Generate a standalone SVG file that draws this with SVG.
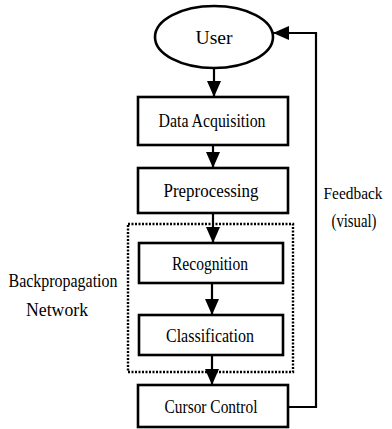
<svg xmlns="http://www.w3.org/2000/svg" width="392" height="429" viewBox="0 0 392 429">
<defs>
<style>
.box{fill:#fff;stroke:#000;stroke-width:2.6}
.t{font-family:"Liberation Serif","DejaVu Serif",serif;font-size:19px;fill:#000;text-anchor:middle}
.ln{stroke:#000;stroke-width:2.2;fill:none}
.dot{fill:none;stroke:#000;stroke-width:2.4;stroke-dasharray:2 1.5}
</style>
<marker id="ah" viewBox="0 0 16 14" refX="16" refY="7" markerWidth="16" markerHeight="14" markerUnits="userSpaceOnUse" orient="auto">
<path d="M0,0 L16,7 L0,14 Z" fill="#000"/>
</marker>
</defs>
<rect width="392" height="429" fill="#fff"/>
<g id="group-bpn">
<rect class="dot" x="128" y="224" width="165" height="148"/>
<text class="t" x="63" y="287" textLength="109" lengthAdjust="spacingAndGlyphs">Backpropagation</text>
<text class="t" x="57" y="316" textLength="62" lengthAdjust="spacingAndGlyphs">Network</text>
</g>
<g id="connectors">
<line class="ln" x1="214" y1="68" x2="214" y2="97" marker-end="url(#ah)"/>
<line class="ln" x1="213" y1="145" x2="213" y2="168" marker-end="url(#ah)"/>
<line class="ln" x1="213" y1="213" x2="213" y2="243" marker-end="url(#ah)"/>
<line class="ln" x1="212" y1="283" x2="212" y2="315" marker-end="url(#ah)"/>
<line class="ln" x1="212" y1="355" x2="212" y2="385" marker-end="url(#ah)"/>
<polyline class="ln" points="288,407 316,407 316,33 273,33" marker-end="url(#ah)"/>
<text class="t" x="353" y="199" style="font-size:17px" textLength="59" lengthAdjust="spacingAndGlyphs">Feedback</text>
<text class="t" x="354" y="227" textLength="45" lengthAdjust="spacingAndGlyphs">(visual)</text>
</g>
<g id="user">
<ellipse cx="214" cy="37" rx="59" ry="31" fill="#fff" stroke="#000" stroke-width="2.6"/>
<text class="t" x="214" y="44" textLength="37" lengthAdjust="spacingAndGlyphs">User</text>
</g>
<g id="data-acquisition">
<rect class="box" x="138" y="97" width="150" height="48"/>
<text class="t" x="212" y="127" textLength="107" lengthAdjust="spacingAndGlyphs">Data Acquisition</text>
</g>
<g id="preprocessing">
<rect class="box" x="138" y="168" width="150" height="45"/>
<text class="t" x="211" y="197" textLength="95" lengthAdjust="spacingAndGlyphs">Preprocessing</text>
</g>
<g id="recognition">
<rect class="box" x="139" y="243" width="144" height="40"/>
<text class="t" x="210" y="270" textLength="76" lengthAdjust="spacingAndGlyphs">Recognition</text>
</g>
<g id="classification">
<rect class="box" x="139" y="315" width="144" height="40"/>
<text class="t" x="210" y="342" textLength="88" lengthAdjust="spacingAndGlyphs">Classification</text>
</g>
<g id="cursor-control">
<rect class="box" x="138" y="385" width="150" height="42"/>
<text class="t" x="211" y="413" textLength="93" lengthAdjust="spacingAndGlyphs">Cursor Control</text>
</g>
</svg>
